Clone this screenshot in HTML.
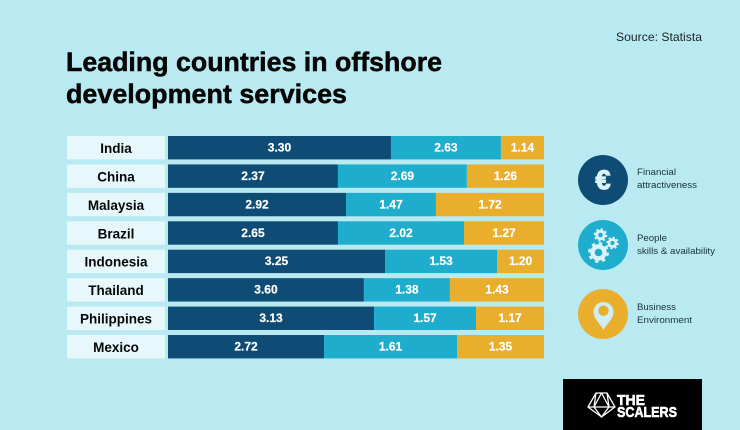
<!DOCTYPE html>
<html lang="en">
<head>
<meta charset="utf-8">
<title>Leading countries in offshore development services</title>
<style>
html,body{margin:0;padding:0;background:#b9e9f1;}
svg{display:block;font-family:"Liberation Sans",sans-serif;}
</style>
</head>
<body>
<svg id="chart" xmlns="http://www.w3.org/2000/svg" width="740" height="430" viewBox="0 0 740 430">
  <rect x="0" y="0" width="740" height="430" fill="#b9e9f1"/>
  <text x="616" y="41" font-size="12" fill="#1c2226" textLength="86" lengthAdjust="spacingAndGlyphs">Source: Statista</text>
  <g font-weight="700" font-size="27" fill="#050505" stroke="#050505" stroke-width="0.5">
    <text x="66" y="71" textLength="376" lengthAdjust="spacingAndGlyphs">Leading countries in offshore</text>
    <text x="66" y="103" textLength="281" lengthAdjust="spacingAndGlyphs">development services</text>
  </g>
  <g id="rows"></g>

  <g>
    <circle cx="603" cy="180" r="25" fill="#0f4c75"/>
    <text x="603" y="189" font-size="27" font-weight="700" fill="#d9f3f8" stroke="#d9f3f8" stroke-width="1.2" text-anchor="middle">€</text>
    <text x="637" y="175" font-size="9" fill="#17323d" textLength="39" lengthAdjust="spacingAndGlyphs">Financial</text>
    <text x="637" y="188" font-size="9" fill="#17323d" textLength="60" lengthAdjust="spacingAndGlyphs">attractiveness</text>
  </g>
  <g>
    <circle cx="603" cy="245" r="25" fill="#1fadce"/>
    <g fill="none" stroke="#d9f3f8">
      <circle cx="598.5" cy="252.5" r="6" stroke-width="4.4"/>
      <circle cx="598.5" cy="252.5" r="9" stroke-width="3" stroke-dasharray="3.4 3.67"/>
      <circle cx="600.5" cy="235" r="3.8" stroke-width="3"/>
      <circle cx="600.5" cy="235" r="5.8" stroke-width="2" stroke-dasharray="2.2 2.35"/>
      <circle cx="612.5" cy="243" r="3.5" stroke-width="2.8"/>
      <circle cx="612.5" cy="243" r="5.4" stroke-width="2" stroke-dasharray="2.1 2.14"/>
    </g>
    <text x="637" y="241" font-size="9" fill="#17323d" textLength="30" lengthAdjust="spacingAndGlyphs">People</text>
    <text x="637" y="254" font-size="9" fill="#17323d" textLength="78" lengthAdjust="spacingAndGlyphs">skills &amp; availability</text>
  </g>
  <g>
    <circle cx="603" cy="314" r="25" fill="#e8ae2c"/>
    <path d="M603.5 330 C600.500 324 593.500 319 593.500 312 A10 10 0 0 1 613.500 312 C613.500 319 606.500 324 603.500 330 Z" fill="#cdeef4"/>
    <circle cx="603.500" cy="310.700" r="5.200" fill="#e8ae2c"/>
    <text x="637" y="310" font-size="9" fill="#17323d" textLength="39" lengthAdjust="spacingAndGlyphs">Business</text>
    <text x="637" y="323" font-size="9" fill="#17323d" textLength="55" lengthAdjust="spacingAndGlyphs">Environment</text>
  </g>

  <g>
    <rect x="563" y="379" width="139" height="51" fill="#000"/>
    <path d="M596 393 H607 L615 407 L601.500 417 L588 407 Z M588 407 H615 M596 393 L594 407 L601.500 417 L609 407 L607 393 M601.500 393 L594 407 M601.500 393 L609 407" fill="none" stroke="#fff" stroke-width="1.300"/>
    <text x="617" y="405" font-size="15" font-weight="700" fill="#fff" stroke="#fff" stroke-width="0.6" textLength="28" lengthAdjust="spacingAndGlyphs">THE</text>
    <text x="617" y="417" font-size="15" font-weight="700" fill="#fff" stroke="#fff" stroke-width="0.6" textLength="60" lengthAdjust="spacingAndGlyphs">SCALERS</text>
  </g>
</svg>
<script>
// Chart data, as printed on the graphic.
var countries = ["India","China","Malaysia","Brazil","Indonesia","Thailand","Philippines","Mexico"];
var financial = [3.30,2.37,2.92,2.65,3.25,3.60,3.13,2.72];
var people    = [2.63,2.69,1.47,2.02,1.53,1.38,1.57,1.61];
var business  = [1.14,1.26,1.72,1.27,1.20,1.43,1.17,1.35];

// The source graphic does not draw its segments to scale. These unitless
// ratios record how much longer or shorter each segment is drawn, read from
// the picture, relative to a true-to-scale segment.
var financialDrawnRatio = [1.126,1.195,1.016,1.069,1.113,0.907,1.097,0.956];
var peopleDrawnRatio    = [0.697,0.799,1.020,1.040,1.220,1.039,1.083,1.377];
var businessDrawnRatio  = [0.629,1.019,1.047,1.050,0.653,1.096,0.969,1.074];

var SVG_NS = "http://www.w3.org/2000/svg";
var rowsGroup = document.getElementById("rows");

function xLength(v){ return v * 60; }
function bandTop(i){ return 136 + i * 28.43; }
var bandHeight = 23.4;

function make(tag, attrs, parent){
  var el = document.createElementNS(SVG_NS, tag);
  for (var k in attrs){ el.setAttribute(k, attrs[k]); }
  parent.appendChild(el);
  return el;
}

var seriesList = [
  {key:"financial", values:financial, ratio:financialDrawnRatio, fill:"#0f4c75"},
  {key:"people",    values:people,    ratio:peopleDrawnRatio,    fill:"#1fadce"},
  {key:"business",  values:business,  ratio:businessDrawnRatio,  fill:"#e8ae2c"}
];

countries.forEach(function(country, i){
  var top = bandTop(i);
  var slug = country.toLowerCase();

  var row = make("g", {}, rowsGroup);
  
  

  var cell = make("rect", {x:67, y:top, width:98, height:bandHeight, fill:"#e6f8fb"}, row);
  
  

  var label = make("text", {x:116, y:top + 17, "font-size":13.5, "font-weight":700, fill:"#060606", "text-anchor":"middle"}, row);
  
  
  label.textContent = country;

  var x = 168;
  seriesList.forEach(function(s){
    var w = xLength(s.values[i] * s.ratio[i]);
    var bar = make("rect", {x:x, y:top, width:w, height:bandHeight, fill:s.fill}, row);
    
    

    var val = make("text", {x:x + w / 2, y:top + 15.5, "font-size":12, "font-weight":700, fill:"#fff", stroke:"#fff", "stroke-width":0.2, "text-anchor":"middle"}, row);
    
    
    val.textContent = s.values[i].toFixed(2);

    x += w;
  });
});
</script>
</body>
</html>
